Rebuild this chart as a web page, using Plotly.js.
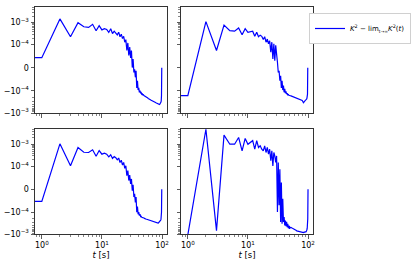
<!DOCTYPE html>
<html>
<head>
<meta charset="utf-8">
<script src="https://cdn.plot.ly/plotly-3.0.1.min.js"></script>
<style>html,body{margin:0;padding:0;background:#fff;}#chart{width:415px;height:264px;}</style>
</head>
<body>
<div id="chart"></div>
<script>
// time steps [s]
const t = [0,1,2,3,4,5,6,7,8,9,10,11,12,13,14,15,16,17,18,19,20,21,22,23,24,25,26,27,28,29,30,
  31,32,33,34,35,36,37,38,39,40,41,42,43,44,45,46,47,48,49,50,51,52,53,54,55,56,57,58,59,60,
  61,62,63,64,65,66,67,68,69,70,71,72,73,74,75,76,77,78,79,80,81,82,83,84,85,86,87,88,89,90,
  91,92,93,94,95,96,97,98,99,100];

// K^2 - lim K^2(t), top-left panel
const k2TopLeft = [4.4e-5,4.4e-5,1.48e-3,2.3e-4,1.0e-3,6.5e-4,6.1e-4,8.4e-4,4.3e-4,7.3e-4,
  4.7e-4,5.3e-4,4.9e-4,3.6e-4,5.3e-4,3.2e-4,4.1e-4,3.4e-4,2.8e-4,3.7e-4,
  2.3e-4,3.0e-4,1.9e-4,2.4e-4,1.3e-4,1.7e-4,7.5e-5,1.2e-4,5.3e-5,9.0e-5,
  4.3e-5,7.5e-5,1.0e-6,3.8e-5,-2.0e-5,-6.0e-6,-4.1e-5,-1.3e-5,-8.7e-5,-5.6e-5,
  -9.6e-5,-8.7e-5,-1.15e-4,-9.9e-5,-1.27e-4,-1.19e-4,-1.41e-4,-1.36e-4,-1.51e-4,-1.48e-4,
  -1.62e-4,-1.66e-4,-1.72e-4,-1.78e-4,-1.84e-4,-1.9e-4,-1.96e-4,-2.02e-4,-2.1e-4,-2.18e-4,
  -2.28e-4,-2.34e-4,-2.4e-4,-2.45e-4,-2.5e-4,-2.56e-4,-2.62e-4,-2.7e-4,-2.77e-4,-2.84e-4,
  -2.9e-4,-2.95e-4,-3.0e-4,-3.05e-4,-3.1e-4,-3.16e-4,-3.22e-4,-3.28e-4,-3.34e-4,-3.4e-4,
  -3.46e-4,-3.55e-4,-3.65e-4,-3.75e-4,-3.85e-4,-3.95e-4,-4.05e-4,-4.15e-4,-4.2e-4,-4.2e-4,
  -4.15e-4,-4.1e-4,-4.0e-4,-3.85e-4,-3.7e-4,-3.5e-4,-3.2e-4,-2.8e-4,-1.6e-4,0];

// top-right panel
const k2TopRight = [-1.62e-4,-1.62e-4,1.11e-3,7.5e-5,7.8e-4,4.3e-4,4.1e-4,5.7e-4,2.8e-4,5.3e-4,
  3.6e-4,3.8e-4,4.1e-4,2.4e-4,3.7e-4,2.3e-4,2.7e-4,2.4e-4,1.7e-4,2.3e-4,
  1.3e-4,1.8e-4,1.1e-4,1.5e-4,6.8e-5,1.3e-4,3.8e-5,1.1e-4,3.1e-5,9.7e-5,
  7.0e-5,2.4e-5,-2.0e-5,-1.3e-5,-5.6e-5,-3.4e-5,-8.7e-5,-5.6e-5,-9.6e-5,-7.7e-5,
  -1.15e-4,-9.1e-5,-1.27e-4,-1.03e-4,-1.41e-4,-1.27e-4,-1.51e-4,-1.45e-4,-1.56e-4,-1.55e-4,
  -1.62e-4,-1.65e-4,-1.68e-4,-1.71e-4,-1.74e-4,-1.77e-4,-1.8e-4,-1.83e-4,-1.86e-4,-1.89e-4,
  -1.92e-4,-1.95e-4,-1.98e-4,-2.01e-4,-2.04e-4,-2.07e-4,-2.1e-4,-2.13e-4,-2.16e-4,-2.18e-4,
  -2.2e-4,-2.24e-4,-2.28e-4,-2.32e-4,-2.36e-4,-2.4e-4,-2.44e-4,-2.48e-4,-2.52e-4,-2.56e-4,
  -2.7e-4,-2.85e-4,-3.0e-4,-3.2e-4,-3.4e-4,-3.3e-4,-3.1e-4,-2.9e-4,-2.8e-4,-2.7e-4,
  -2.65e-4,-2.6e-4,-2.55e-4,-2.5e-4,-2.4e-4,-2.3e-4,-2.1e-4,-1.9e-4,-1.4e-4,0];

// bottom-left panel
const k2BottomLeft = [-5.3e-5,-5.3e-5,1.07e-3,1.07e-4,7.3e-4,4.4e-4,4.3e-4,5.7e-4,2.9e-4,5.3e-4,
  3.6e-4,4.0e-4,3.6e-4,2.7e-4,3.4e-4,2.3e-4,2.8e-4,2.5e-4,2.0e-4,2.4e-4,
  1.5e-4,1.9e-4,1.15e-4,1.5e-4,9.1e-5,1.07e-4,5.9e-5,8.1e-5,3.8e-5,6.2e-5,
  2.3e-5,4.5e-5,-6.0e-6,1.9e-5,-3.4e-5,-2.0e-5,-5.8e-5,-3.4e-5,-1.0e-4,-7.6e-5,
  -1.24e-4,-1.0e-4,-1.43e-4,-1.24e-4,-1.6e-4,-1.54e-4,-1.7e-4,-1.68e-4,-1.78e-4,-1.8e-4,
  -1.9e-4,-1.94e-4,-1.98e-4,-2.02e-4,-2.06e-4,-2.1e-4,-2.14e-4,-2.18e-4,-2.22e-4,-2.26e-4,
  -2.3e-4,-2.33e-4,-2.36e-4,-2.39e-4,-2.42e-4,-2.45e-4,-2.48e-4,-2.51e-4,-2.54e-4,-2.57e-4,
  -2.6e-4,-2.63e-4,-2.66e-4,-2.69e-4,-2.72e-4,-2.75e-4,-2.78e-4,-2.81e-4,-2.84e-4,-2.87e-4,
  -2.9e-4,-2.95e-4,-3.0e-4,-3.05e-4,-3.1e-4,-3.2e-4,-3.15e-4,-3.1e-4,-3.0e-4,-2.95e-4,
  -2.9e-4,-2.8e-4,-2.7e-4,-2.6e-4,-2.45e-4,-2.3e-4,-2.15e-4,-1.8e-4,-1.0e-4,0];

// bottom-right panel
const k2BottomRight = [-1.2e-3,-1.1e-3,5.0e-3,-7.0e-4,2.7e-3,1.03e-3,1.03e-3,2.1e-3,5.1e-4,1.9e-3,
  1.03e-3,1.2e-3,1.5e-3,6.1e-4,1.5e-3,7.3e-4,8.7e-4,6.1e-4,5.1e-4,8.7e-4,
  4.3e-4,7.3e-4,3.6e-4,6.1e-4,1.8e-4,5.1e-4,1.04e-4,4.3e-4,3.0e-4,1.5e-4,
  3.0e-4,-9.9e-5,1.5e-4,-7.0e-5,8.7e-5,-2.8e-4,2.9e-5,-3.4e-4,-4.2e-5,-2.8e-4,
  -1.65e-4,-4.1e-4,-2.4e-4,-4.4e-4,-2.8e-4,-4.9e-4,-3.4e-4,-5.4e-4,-4.1e-4,-5.8e-4,
  -4.9e-4,-5.2e-4,-5.0e-4,-5.4e-4,-5.3e-4,-5.5e-4,-5.6e-4,-5.7e-4,-5.8e-4,-6.0e-4,
  -6.2e-4,-6.4e-4,-6.5e-4,-6.7e-4,-6.9e-4,-7.2e-4,-7.3e-4,-7.5e-4,-7.6e-4,-7.7e-4,
  -7.8e-4,-7.9e-4,-8.0e-4,-8.1e-4,-8.2e-4,-8.4e-4,-8.5e-4,-8.6e-4,-8.6e-4,-8.7e-4,
  -8.7e-4,-8.7e-4,-8.7e-4,-8.6e-4,-8.6e-4,-8.4e-4,-8.4e-4,-8.4e-4,-8.4e-4,-8.4e-4,
  -8.4e-4,-8.2e-4,-8.0e-4,-7.8e-4,-7.3e-4,-7.0e-4,-6.3e-4,-5.4e-4,-4.1e-4,-2.0e-4,0];

// axis tick labels
const yTickValues = [1e-3, 1e-4, 0, -1e-4, -1e-3];
const yTickLabels = ['10<sup>−3</sup>','10<sup>−4</sup>','0','−10<sup>−4</sup>','−10<sup>−3</sup>'];
const xTickValues = [1, 10, 100];
const xTickLabels = ['10<sup>0</sup>','10<sup>1</sup>','10<sup>2</sup>'];
const legendLabel = '<i>K</i><sup>2</sup> − lim<sub><span style="font-size:4.5px">t→∞</span></sub><i>K</i><sup>2</sup>(<i>t</i>)';

// symmetric-log transform (linthresh 1e-4), mimicking matplotlib's symlog
const LINTHRESH = 1e-4, LINSCALE = 1.05;
function symlog(v) {
  const a = Math.abs(v);
  if (a <= LINTHRESH) return v / LINTHRESH * LINSCALE;
  return Math.sign(v) * (LINSCALE + Math.log10(a / LINTHRESH));
}
// non-positive times clipped like matplotlib's log axis
const tPlot = t.map(v => v > 0 ? v : 1e-2);

const yMinorVals = [];
[2,3,4,5,6,7,8,9].forEach(k => { yMinorVals.push(symlog(k*1e-4), symlog(-k*1e-4)); });
[2,3,4,5].forEach(k => { yMinorVals.push(symlog(k*1e-3)); });
const xMinorVals = [0.8,0.9,2,3,4,5,6,7,8,9,20,30,40,50,60,70,80,90];

const series = [k2TopLeft, k2TopRight, k2BottomLeft, k2BottomRight];
const font = {family: 'DejaVu Sans, sans-serif', size: 8, color: '#000'};
const frame = '#333';

const traces = series.map((s, i) => ({
  x: tPlot, y: s.map(symlog), type: 'scatter', mode: 'lines',
  line: {color: '#0000ff', width: 1.2},
  name: legendLabel, showlegend: i === 0,
  xaxis: i === 0 ? 'x' : 'x' + (i + 1), yaxis: i === 0 ? 'y' : 'y' + (i + 1)
}));

const xDomains = [[35/415, 167/415], [181/415, 313/415]];
const yDomains = [[1-113/264, 1-7/264], [1-234/264, 1-129/264]];

const layout = {
  width: 415, height: 264,
  margin: {l: 0, r: 0, t: 0, b: 0, autoexpand: false},
  paper_bgcolor: '#fff', plot_bgcolor: '#fff',
  font: font,
  showlegend: true,
  legend: {x: 411/415, y: 1-13/264, xanchor: 'right', yanchor: 'top',
    bgcolor: '#fff', bordercolor: '#d0d0d0', borderwidth: 1,
    font: {family: 'DejaVu Sans, sans-serif', size: 7, color: '#000'}, itemwidth: 30}
};

for (let i = 0; i < 4; i++) {
  const col = i % 2, row = Math.floor(i / 2);
  const xa = i === 0 ? 'xaxis' : 'xaxis' + (i + 1);
  const ya = i === 0 ? 'yaxis' : 'yaxis' + (i + 1);
  const yId = i === 0 ? 'y' : 'y' + (i + 1);
  const xId = i === 0 ? 'x' : 'x' + (i + 1);
  layout[xa] = {
    type: 'log', domain: xDomains[col], anchor: yId,
    range: [Math.log10(0.77), Math.log10(121)],
    showgrid: false, zeroline: false,
    showline: true, mirror: true, linecolor: frame, linewidth: 1,
    ticks: 'outside', ticklen: 3.5, tickwidth: 0.8, tickcolor: frame,
    tickmode: 'array', tickvals: xTickValues, ticktext: xTickLabels,
    showticklabels: row === 1, tickfont: font,
    minor: {tickmode: 'array', tickvals: xMinorVals, ticks: 'outside', ticklen: 2, tickwidth: 0.6, tickcolor: frame, showgrid: false}
  };
  if (row === 1) {
    layout[xa].title = {text: '<i>t</i> [s]', font: {family: 'DejaVu Sans, sans-serif', size: 8.5}, standoff: 2};
  }
  layout[ya] = {
    domain: yDomains[row], anchor: xId,
    range: [symlog(-1e-3), 2.76],
    showgrid: false, zeroline: false,
    showline: true, mirror: true, linecolor: frame, linewidth: 1,
    ticks: 'outside', ticklen: 3.5, tickwidth: 0.8, tickcolor: frame,
    tickmode: 'array', tickvals: yTickValues.map(symlog), ticktext: yTickLabels,
    showticklabels: col === 0, tickfont: font,
    minor: {tickmode: 'array', tickvals: yMinorVals, ticks: 'outside', ticklen: 2, tickwidth: 0.6, tickcolor: frame, showgrid: false}
  };
}

Plotly.newPlot('chart', traces, layout, {displayModeBar: false, staticPlot: true});
</script>
</body>
</html>
